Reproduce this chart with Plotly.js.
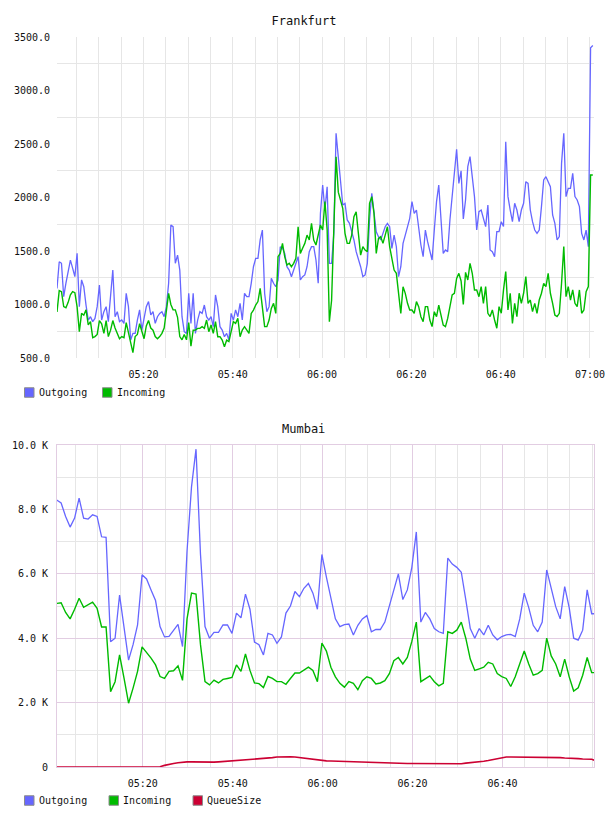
<!DOCTYPE html>
<html>
<head>
<meta charset="utf-8">
<script src="https://cdn.plot.ly/plotly-3.0.1.min.js"></script>
<style>
  html, body { margin: 0; padding: 0; background: #ffffff; }
  #chart { width: 608px; height: 816px; }
</style>
</head>
<body>
<div id="chart"></div>
<script>
// ---- Frankfurt: 30-second samples ----
const fraStart = Date.UTC(2024, 4, 14, 5, 0, 38);
const fraStepSec = 30;
const fraOutgoing = [
  1150,1400,1385,1073,1200,1320,1415,1340,1260,1478,
  980,1230,1166,995,855,886,840,870,980,1182,
  855,933,980,840,1104,1322,886,933,840,855,
  824,1104,980,668,730,730,855,950,761,855,
  980,1027,902,933,824,886,917,933,886,980,
  1198,1743,1727,1385,1462,1322,886,746,730,1104,
  824,1104,730,855,933,917,995,886,855,886,
  793,1089,980,793,761,699,730,668,917,855,
  950,886,1011,855,1104,1073,1073,1198,1353,1431,
  1431,1603,1696,1104,933,980,1244,1198,1166,1229,
  1540,1525,1478,1353,1322,1260,1322,1385,1447,1229,
  1260,1276,1353,1494,1540,1540,1416,1198,1852,2117,
  1883,2100,1385,1385,1665,2600,2380,2101,1930,1945,
  1790,1758,1680,1603,1494,1431,1353,1260,1276,1385,
  1790,2039,1852,1680,1634,1603,1665,1727,1758,1727,
  1525,1649,1540,1260,1353,1571,1649,1727,1805,1961,
  1852,1883,1712,1556,1447,1696,1587,1494,1416,1696,
  1961,2117,1821,1478,1509,1494,1790,2008,2288,2450,
  2132,2250,1800,1977,2288,2382,2195,2008,1696,1868,
  1883,1805,1728,1930,1510,1494,1447,1681,1681,1774,
  1728,2520,2008,1883,1774,1946,1883,1774,1883,1946,
  2148,2132,1883,1774,1696,1665,1696,1915,2164,2195,
  2148,2101,1837,1759,1603,1634,2319,2600,2008,2086,
  2086,2226,2008,1977,1915,1665,1603,1696,1540,3400,
  3420
];
const fraIncoming = [
  930,1130,1120,980,970,1020,1090,1120,1110,980,
  746,917,900,950,810,840,690,700,720,850,
  820,730,850,700,760,850,780,730,680,700,
  690,830,730,620,550,700,720,820,760,680,
  800,850,780,760,700,680,700,730,780,920,
  1104,1000,950,950,880,700,670,720,670,830,
  610,760,761,777,777,793,777,855,746,808,
  730,840,699,699,668,606,668,653,761,840,
  824,870,699,761,793,761,730,917,948,995,
  1027,1151,980,793,793,855,964,1011,917,1447,
  1478,1571,1447,1369,1385,1353,1385,1431,1727,1478,
  1525,1571,1649,1603,1758,1603,1556,1649,1743,1696,
  1961,1700,840,1040,1660,2380,2050,1961,1899,1665,
  1571,1571,1649,1821,1867,1665,1462,1540,1509,1494,
  1945,2008,1852,1478,1618,1634,1571,1649,1727,1540,
  1416,1322,1291,1104,917,1166,1104,1011,948,948,
  917,1027,980,886,840,980,980,855,793,933,
  886,995,886,808,793,870,980,1089,1104,1244,
  1291,1220,1000,1300,1229,1385,1292,1136,1136,1073,
  1167,1011,1167,918,887,949,855,778,980,918,
  1136,1307,949,1105,824,1011,887,1105,1011,1105,
  1260,1011,1042,933,1011,918,1042,1105,1198,1167,
  1292,1105,1011,902,887,918,1198,1541,1073,1167,
  1042,1136,1011,980,1136,918,949,1120,1167,2210,
  2210
];

// ---- Mumbai: 1-minute samples ----
const mumStart = Date.UTC(2024, 4, 14, 5, 0, 50);
const mumStepSec = 60;
const mumOutgoing = [
  8290,8200,7780,7450,7730,8350,7730,7700,7830,7780,
  7150,7130,3890,4000,5340,4400,3320,3800,4410,5970,
  5840,5500,5170,4360,4040,4060,4250,4430,3740,6700,
  8700,9870,6600,4360,4000,4180,4180,4410,4410,4150,
  4780,4630,5370,4900,3880,3800,3480,4150,4100,3840,
  4040,4780,5000,5450,5290,5550,5700,5400,4900,6600,
  5900,5200,4600,4360,4420,4440,4100,4400,4600,4700,
  4200,4270,4270,4500,5000,5500,6000,5200,5500,6200,
  7300,4500,4800,4600,4300,4200,4150,6490,6300,6200,
  6050,5200,4300,4000,4300,4100,4400,4100,3950,4050,
  4100,4120,4050,4600,5400,4950,4400,4200,4500,6120,
  5500,4980,4600,5600,4950,4000,3940,4250,5500,4760,
  4760
];
const mumIncoming = [
  5080,5100,4800,4600,4900,5240,4960,5030,5120,4930,
  4350,4350,2340,2650,3480,2750,1980,2450,2970,3730,
  3560,3380,3170,2810,2750,2970,2990,3140,2690,4600,
  5400,5370,3800,2650,2550,2700,2610,2720,2750,2780,
  3170,2970,3510,3000,2610,2590,2470,2810,2750,2650,
  2650,2570,2750,2920,2920,3020,3100,3000,2650,3850,
  3600,3100,2800,2600,2480,2650,2600,2400,2680,2800,
  2750,2580,2610,2680,2900,3300,3400,3200,3400,3900,
  4500,2650,2750,2830,2650,2520,2600,4200,4150,4250,
  4500,4000,3350,3000,3050,3100,3250,3200,2900,2810,
  2750,2500,2800,3200,3600,3200,2850,2900,3000,4000,
  3450,3200,2800,3350,2800,2360,2460,2850,3400,2930,
  2930
];
const mumQueue = [
  0,0,0,0,0,0,0,0,0,0,
  0,0,0,10,20,20,20,20,20,20,
  10,5,0,10,50,90,110,130,150,160,
  160,155,150,150,150,150,160,170,180,180,
  190,200,210,220,230,250,270,280,290,310,
  320,330,320,310,290,270,260,240,220,200,
  190,185,180,170,165,160,155,150,145,140,
  130,125,120,115,110,110,110,110,110,110,
  110,100,100,95,90,90,90,90,90,90,
  100,120,130,140,160,180,200,230,260,290,
  310,310,310,310,310,310,305,300,300,300,
  295,290,290,280,280,270,260,250,240,240,
  190
];

// ---- axis labels and legend entries ----
const day = '2024-05-14 ';
const fraTimeTicks = ['05:20', '05:40', '06:00', '06:20', '06:40', '07:00'];
const mumTimeTicks = ['05:20', '05:40', '06:00', '06:20', '06:40'];
const fraValueTicks = [500, 1000, 1500, 2000, 2500, 3000, 3500];
const mumValueTicks = [0, 2000, 4000, 6000, 8000, 10000];
const mumValueLabels = ['0', '2.0 K', '4.0 K', '6.0 K', '8.0 K', '10.0 K'];
const fraSeries = ['Outgoing', 'Incoming'];
const mumSeries = ['Outgoing', 'Incoming', 'QueueSize'];

const seriesColor = { Outgoing: '#6666ff', Incoming: '#00bb00', QueueSize: '#cc0033' };

function times(start, stepSec, n) {
  const out = [];
  for (let i = 0; i < n; i++) out.push(start + i * stepSec * 1000);
  return out;
}

const FONT = '"DejaVu Sans Mono", monospace';
const TEXT = '#111111';
const GRID = '#e6e6e6';
const LAV = '#e2cde2';
const W = 608, H = 816;
const px = v => v / W;
const py = v => 1 - v / H;

const fraT = times(fraStart, fraStepSec, fraOutgoing.length);
const mumT = times(mumStart, mumStepSec, mumOutgoing.length);

function line(x, y, name, xa, ya, width) {
  return {
    type: 'scatter', mode: 'lines', x: x, y: y, name: name,
    xaxis: xa, yaxis: ya, showlegend: false, hoverinfo: 'skip',
    line: { color: seriesColor[name], width: width, shape: 'linear' }
  };
}

const data = [
  line(fraT, fraOutgoing, 'Outgoing', 'x', 'y', 1.3),
  line(fraT, fraIncoming, 'Incoming', 'x', 'y', 1.4),
  line(mumT, mumOutgoing, 'Outgoing', 'x2', 'y2', 1.3),
  line(mumT, mumIncoming, 'Incoming', 'x2', 'y2', 1.4),
  line(mumT, mumQueue, 'QueueSize', 'x2', 'y2', 1.6)
];

// Legend rows under each panel: a small square swatch followed by the series name.
const shapes = [];
const annotations = [];
function legendRow(names, swatchLefts, centerY) {
  names.forEach((name, k) => {
    const left = swatchLefts[k];
    shapes.push({
      type: 'rect', xref: 'paper', yref: 'paper',
      x0: px(left), x1: px(left + 9.5), y0: py(centerY + 4.75), y1: py(centerY - 4.75),
      fillcolor: seriesColor[name], line: { color: '#8c8c8c', width: 1 }
    });
    annotations.push({
      text: name, xref: 'paper', yref: 'paper', x: px(left + 12), y: py(centerY),
      xanchor: 'left', yanchor: 'middle', showarrow: false,
      font: { family: FONT, size: 10, color: TEXT }
    });
  });
}
legendRow(fraSeries, [24.5, 102.5], 392.5);
legendRow(mumSeries, [24.5, 109, 193], 800.5);

annotations.push({
  text: 'Mumbai', xref: 'paper', yref: 'paper', x: px(303), y: py(429),
  xanchor: 'center', yanchor: 'middle', showarrow: false,
  font: { family: FONT, size: 12, color: TEXT }
});

const tickFont = { family: FONT, size: 10, color: TEXT };
const fiveMin = 5 * 60 * 1000;

const layout = {
  width: W, height: H,
  margin: { l: 0, r: 0, t: 0, b: 0 },
  paper_bgcolor: '#ffffff', plot_bgcolor: '#ffffff',
  showlegend: false,
  title: {
    text: 'Frankfurt', x: px(304), xanchor: 'center', y: py(21), yanchor: 'middle',
    font: { family: FONT, size: 12, color: TEXT }
  },
  xaxis: {
    domain: [px(57), px(594)], anchor: 'y', type: 'date',
    range: [day + '05:00:38', day + '07:00:54'],
    tickmode: 'array', tickvals: fraTimeTicks.map(t => day + t), ticktext: fraTimeTicks,
    showgrid: true, gridcolor: GRID, gridwidth: 1, zeroline: false, showline: false,
    ticks: '', tickfont: tickFont, ticklabelstandoff: 9,
    minor: { tickmode: 'linear', tick0: day + '05:00', dtick: fiveMin, showgrid: true, gridcolor: GRID, gridwidth: 1, ticks: '' }
  },
  yaxis: {
    domain: [py(358), py(37)], anchor: 'x', range: [500, 3500],
    tickmode: 'array', tickvals: fraValueTicks, ticktext: fraValueTicks.map(v => v.toFixed(1)),
    showgrid: false, zeroline: false, showline: false, ticks: '', tickfont: tickFont, ticklabelstandoff: 6,
    minor: { tickmode: 'linear', tick0: 250, dtick: 500, showgrid: true, gridcolor: GRID, gridwidth: 1, ticks: '' }
  },
  xaxis2: {
    domain: [px(57), px(594)], anchor: 'y2', type: 'date',
    range: [day + '05:00:55', day + '07:00:21'],
    tickmode: 'array', tickvals: mumTimeTicks.map(t => day + t), ticktext: mumTimeTicks,
    showgrid: true, gridcolor: LAV, gridwidth: 1, zeroline: false,
    showline: true, linecolor: LAV, linewidth: 1, mirror: true,
    ticks: '', tickfont: tickFont, ticklabelstandoff: 7,
    minor: { tickmode: 'linear', tick0: day + '05:00', dtick: fiveMin, showgrid: true, gridcolor: GRID, gridwidth: 1, ticks: '' }
  },
  yaxis2: {
    domain: [py(767), py(445)], anchor: 'x2', range: [0, 10000],
    tickmode: 'array', tickvals: mumValueTicks, ticktext: mumValueLabels,
    showgrid: true, gridcolor: LAV, gridwidth: 1, zeroline: false,
    showline: true, linecolor: LAV, linewidth: 1, mirror: true,
    ticks: '', tickfont: tickFont, ticklabelstandoff: 6,
    minor: { tickmode: 'linear', tick0: 0, dtick: 1000, showgrid: true, gridcolor: GRID, gridwidth: 1, ticks: '' }
  },
  shapes: shapes,
  annotations: annotations
};

Plotly.newPlot('chart', data, layout, { staticPlot: true, displayModeBar: false });
</script>
</body>
</html>
